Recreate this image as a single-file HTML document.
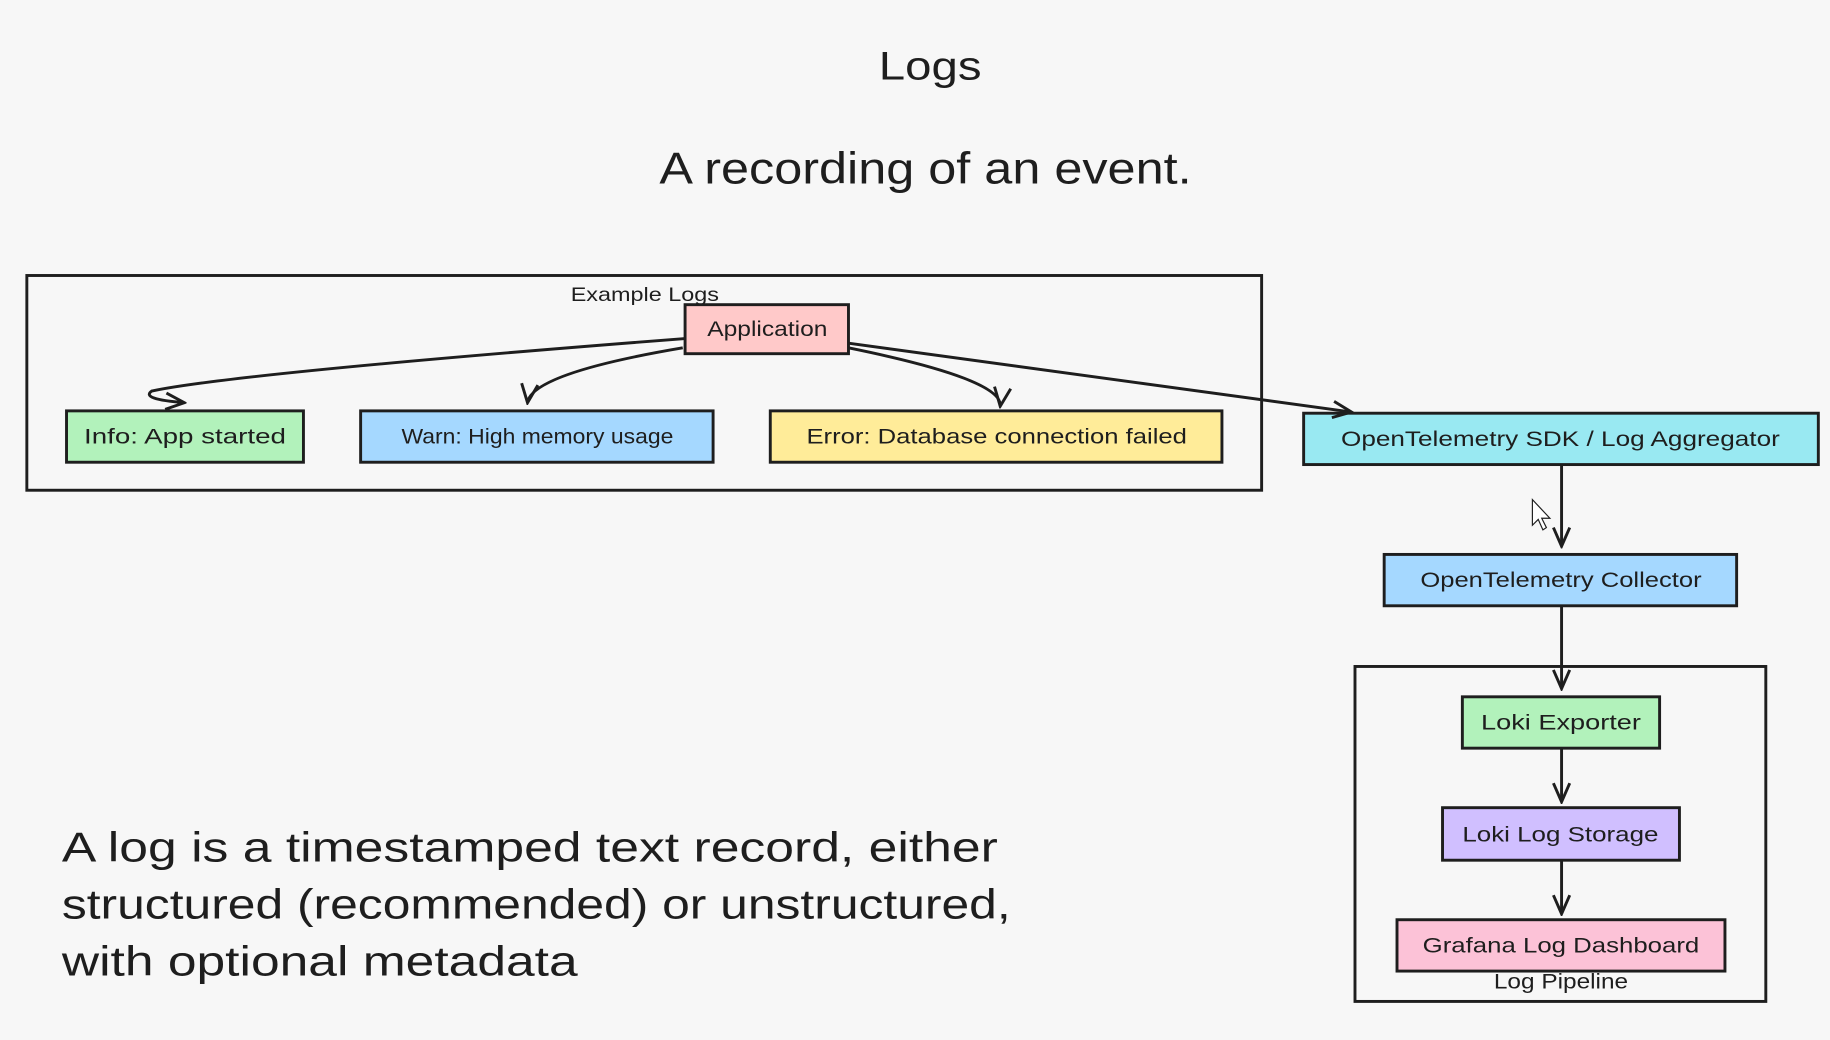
<!DOCTYPE html>
<html><head><meta charset="utf-8"><style>
html,body{margin:0;padding:0;background:#f7f7f7;}
svg{display:block;}
text{font-family:"Liberation Sans",sans-serif;fill:#1e1e1e;}
</style></head><body>
<svg width="1830" height="1040" viewBox="0 0 1568 891" xmlns="http://www.w3.org/2000/svg">
<defs>
<marker id="a" viewBox="0 0 20 20" refX="18" refY="10" markerWidth="20" markerHeight="20" markerUnits="userSpaceOnUse" orient="auto">
<path d="M2,3 L18,10 L2,17" fill="none" stroke="#1e1e1e" stroke-width="2.5"/>
</marker>
</defs>
<rect width="1568" height="891" fill="#f7f7f7"/>
<text x="753" y="68" font-size="34" textLength="88" lengthAdjust="spacingAndGlyphs">Logs</text>
<text x="565" y="157" font-size="38" textLength="456" lengthAdjust="spacingAndGlyphs">A recording of an event.</text>

<rect x="23" y="236" width="1058" height="184" fill="none" stroke="#1e1e1e" stroke-width="2.5"/>
<text x="489" y="258" font-size="17" textLength="127" lengthAdjust="spacingAndGlyphs">Example Logs</text>

<g stroke="#1e1e1e" stroke-width="2.5">
<rect x="587" y="261" width="140" height="42" fill="#ffc9c9"/>
<rect x="57" y="352" width="203" height="44" fill="#b2f2bb"/>
<rect x="309" y="352" width="302" height="44" fill="#a5d8ff"/>
<rect x="660" y="352" width="387" height="44" fill="#ffec99"/>
<rect x="1117" y="354" width="441" height="44" fill="#99e9f2"/>
<rect x="1186" y="475" width="302" height="44" fill="#a5d8ff"/>
<rect x="1161" y="571" width="352" height="287" fill="none"/>
<rect x="1253" y="597" width="169" height="44" fill="#b2f2bb"/>
<rect x="1236" y="692" width="203" height="45" fill="#d0bfff"/>
<rect x="1197" y="788" width="281" height="44" fill="#fcc2d7"/>
</g>

<g fill="none" stroke="#1e1e1e" stroke-width="2.5" marker-end="url(#a)">
<path d="M587,290 Q200,320 130,335 Q120,342 158,345"/>
<path d="M585,298 Q455,320 452,345"/>
<path d="M727,298 Q860,325 857,348"/>
<path d="M727,294 L1158,353"/>
<path d="M1338,398 L1338,468"/>
<path d="M1338,519 L1338,590"/>
<path d="M1338,641 L1338,687"/>
<path d="M1338,737 L1338,783"/>
</g>

<g font-size="18" lengthAdjust="spacingAndGlyphs">
<text x="606" y="288" textLength="103" lengthAdjust="spacingAndGlyphs">Application</text>
<text x="72" y="380" textLength="173" lengthAdjust="spacingAndGlyphs">Info: App started</text>
<text x="344" y="380" textLength="233" lengthAdjust="spacingAndGlyphs">Warn: High memory usage</text>
<text x="691" y="380" textLength="326" lengthAdjust="spacingAndGlyphs">Error: Database connection failed</text>
<text x="1149" y="382" textLength="376" lengthAdjust="spacingAndGlyphs">OpenTelemetry SDK / Log Aggregator</text>
<text x="1217" y="503" textLength="241" lengthAdjust="spacingAndGlyphs">OpenTelemetry Collector</text>
<text x="1269" y="625" textLength="137" lengthAdjust="spacingAndGlyphs">Loki Exporter</text>
<text x="1253" y="721" textLength="168" lengthAdjust="spacingAndGlyphs">Loki Log Storage</text>
<text x="1219" y="816" textLength="237" lengthAdjust="spacingAndGlyphs">Grafana Log Dashboard</text>
<text x="1280" y="847" textLength="115" lengthAdjust="spacingAndGlyphs">Log Pipeline</text>
</g>

<g font-size="36">
<text x="53" y="738" textLength="802" lengthAdjust="spacingAndGlyphs">A log is a timestamped text record, either</text>
<text x="53" y="787" textLength="813" lengthAdjust="spacingAndGlyphs">structured (recommended) or unstructured,</text>
<text x="53" y="836" textLength="442" lengthAdjust="spacingAndGlyphs">with optional metadata</text>
</g>
<path d="M1313,428 L1313,450 L1318,445 L1322,454 L1325,452 L1321,444 L1328,444 Z" fill="#fff" stroke="#1e1e1e" stroke-width="1"/>
</svg>
</body></html>
